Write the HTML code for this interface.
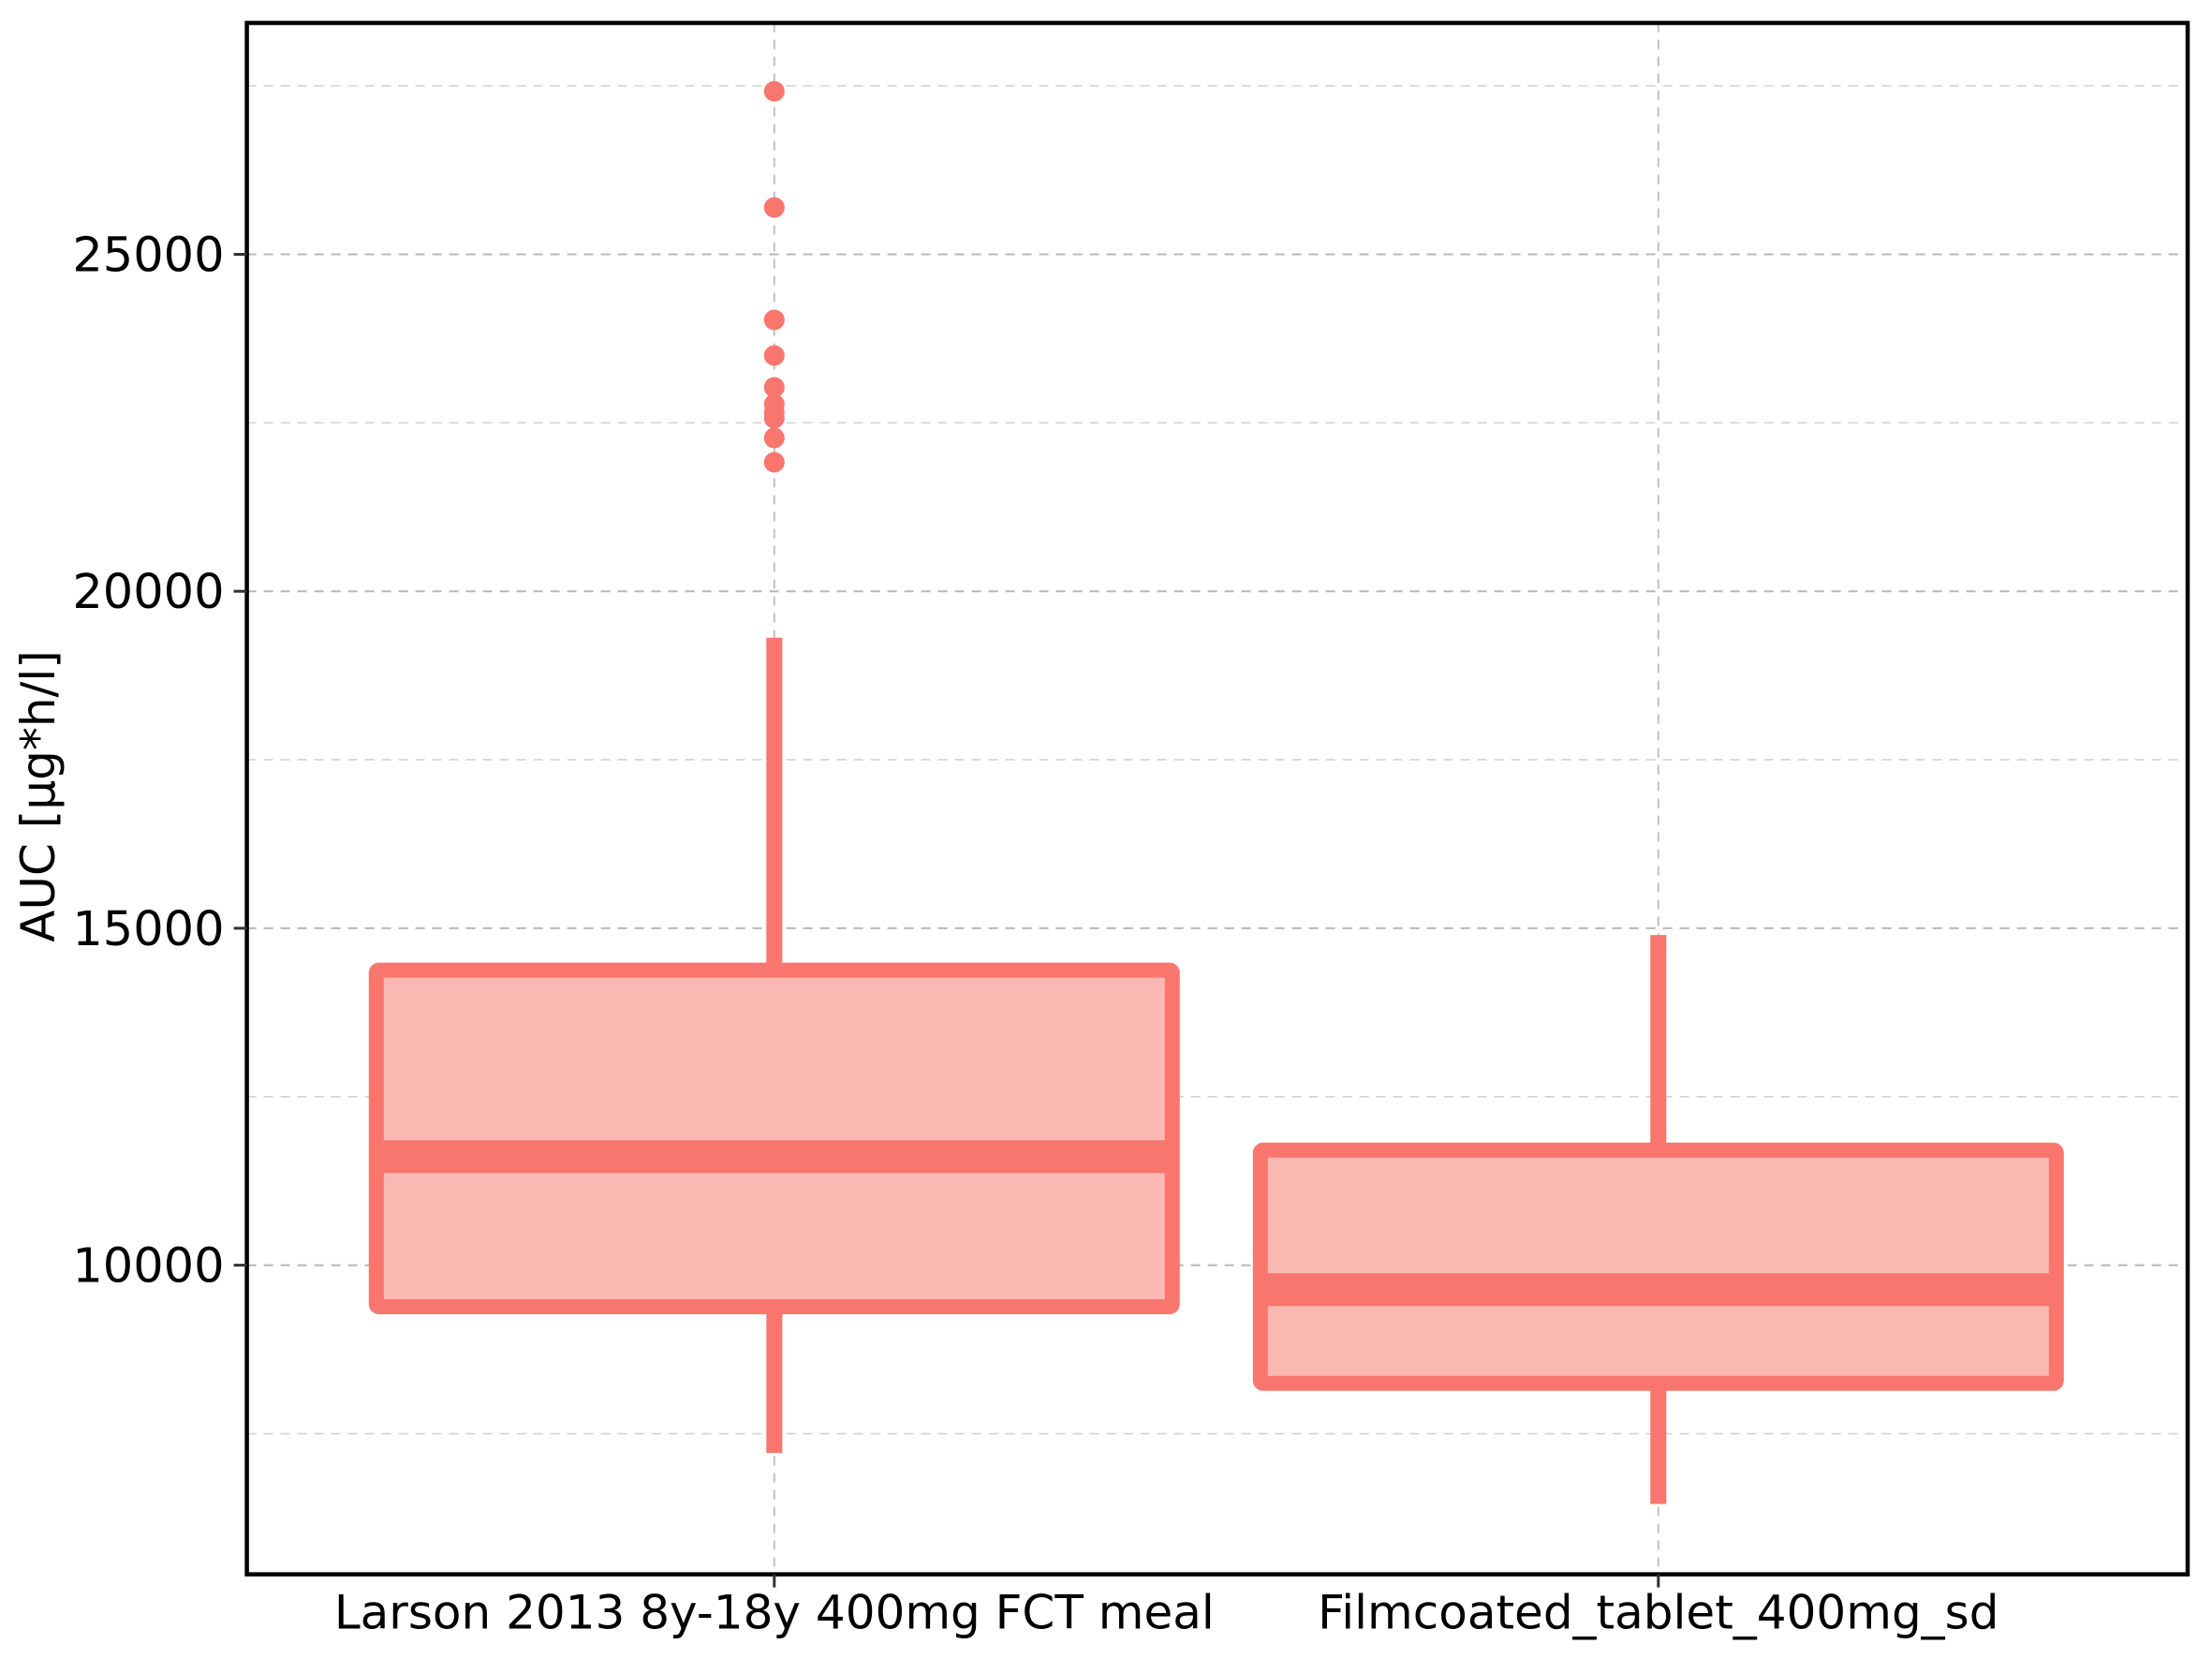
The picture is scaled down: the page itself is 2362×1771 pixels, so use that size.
<!DOCTYPE html>
<html><head><meta charset="utf-8"><style>
html,body{margin:0;padding:0;background:#fff;}
svg{display:block;font-family:"DejaVu Sans","Liberation Sans",sans-serif;}
</style></head><body>
<svg id="chart" width="2362" height="1771" viewBox="0 0 2362 1771" xmlns="http://www.w3.org/2000/svg">
<rect width="2362" height="1771" fill="#fff"/>
<g id="grid"></g>
<g id="marks"></g>
<g id="axes"></g>
<text transform="translate(58,850) rotate(-90)" text-anchor="middle" font-size="50" fill="#000">AUC [µg*h/l]</text>
</svg>
<script>
const categories = ["Larson 2013 8y-18y 400mg FCT meal", "Filmcoated_tablet_400mg_sd"];
const q1 = [9383, 8247];
const medians = [11611, 9637];
const q3 = [14379, 11707];
const whiskerLow = [7214, 6456];
const whiskerHigh = [19312, 14900];
const outliers = [[27419, 25695, 24027, 23499, 23026, 22776, 22650, 22567, 22275, 21914], []];
const majorTicks = [10000, 15000, 20000, 25000];
const minorTicks = [7500, 12500, 17500, 22500, 27500];

const NS = "http://www.w3.org/2000/svg";
const L = 263.6, R = 2336, T = 24.5, B = 1680.6;
const y = v => 1350.6 - (v - 10000) * 0.07194;
const xc = i => 826.8 + i * 944;
const halfW = 425;
const STROKE = "#f8766d", FILL = "#fab8b3";
function mk(tag, attrs, parent) {
  const e = document.createElementNS(NS, tag);
  for (const k in attrs) e.setAttribute(k, attrs[k]);
  parent.appendChild(e);
  return e;
}
const grid = document.getElementById('grid'), marks = document.getElementById('marks'), axes = document.getElementById('axes');
majorTicks.forEach(v => {
  const l = mk('line', {x1: L, x2: R, y1: y(v), y2: y(v), stroke: '#b8b8b8', 'stroke-width': 2, 'stroke-dasharray': '10,8'}, grid);
  
  
});
minorTicks.forEach(v => {
  const l = mk('line', {x1: L, x2: R, y1: y(v), y2: y(v), stroke: '#d0d0d0', 'stroke-width': 1.5, 'stroke-dasharray': '10,8'}, grid);
  
  
});
categories.forEach((c, i) => {
  const l = mk('line', {x1: xc(i), x2: xc(i), y1: T, y2: B, stroke: '#bcbcbc', 'stroke-width': 1.8, 'stroke-dasharray': '10,8'}, grid);
  
  
});
categories.forEach((c, i) => {
  const g = mk('g', {}, marks);
  
  
  const w1 = mk('line', {x1: xc(i), x2: xc(i), y1: y(whiskerHigh[i]), y2: y(q3[i]), stroke: STROKE, 'stroke-width': 17}, g);
  
  
  const w2 = mk('line', {x1: xc(i), x2: xc(i), y1: y(q1[i]), y2: y(whiskerLow[i]), stroke: STROKE, 'stroke-width': 17}, g);
  
  
  const b = mk('rect', {x: xc(i) - halfW, y: y(q3[i]), width: 2 * halfW, height: y(q1[i]) - y(q3[i]), fill: FILL, stroke: STROKE, 'stroke-width': 16, rx: 3}, g);
  
  
  const m = mk('line', {x1: xc(i) - halfW, x2: xc(i) + halfW, y1: y(medians[i]), y2: y(medians[i]), stroke: STROKE, 'stroke-width': 35}, g);
  
  
  outliers[i].forEach(v => {
    const p = mk('circle', {cx: xc(i), cy: y(v), r: 11, fill: STROKE}, g);
    
    
  });
});
const fr = mk('rect', {x: L, y: T, width: R - L, height: B - T, fill: 'none', stroke: '#000', 'stroke-width': 4.5}, axes);


majorTicks.forEach(v => {
  const t = mk('line', {x1: L - 14, x2: L, y1: y(v), y2: y(v), stroke: '#333', 'stroke-width': 3}, axes);
  
  
  const tx = mk('text', {x: L - 24, y: y(v) + 18, 'text-anchor': 'end', 'font-size': 51, fill: '#000'}, axes);
  tx.textContent = v;
  
  
});
categories.forEach((c, i) => {
  const t = mk('line', {x1: xc(i), x2: xc(i), y1: B, y2: B + 14, stroke: '#333', 'stroke-width': 3}, axes);
  
  
  const tx = mk('text', {x: xc(i), y: B + 58, 'text-anchor': 'middle', 'font-size': 50, fill: '#000'}, axes);
  tx.textContent = c;
  
  
});
</script>
</body></html>
